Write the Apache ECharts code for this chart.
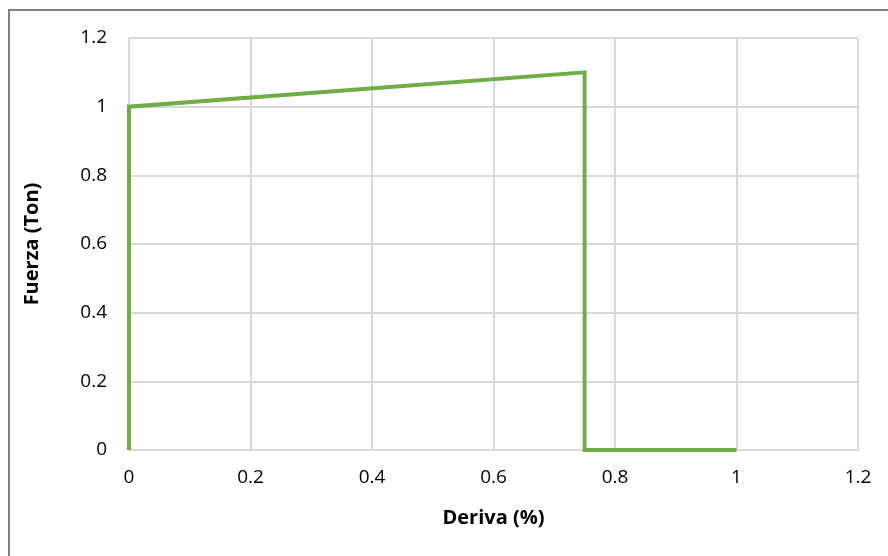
<!DOCTYPE html>
<html>
<head>
<meta charset="utf-8">
<script src="https://cdn.jsdelivr.net/npm/echarts@6/dist/echarts.min.js"></script>
<style>
  html, body { margin: 0; padding: 0; background: #fff; }
  #chart { width: 888px; height: 556px; }
</style>
</head>
<body>
<div id="chart"></div>
<script>
// Force–drift curve
const deriva = [0, 0, 0.75, 0.75, 1];
const fuerza = [0, 1, 1.1, 0, 0];
const xTicks = [0, 0.2, 0.4, 0.6, 0.8, 1, 1.2];
const yTicks = [0, 0.2, 0.4, 0.6, 0.8, 1, 1.2];

const font = '"Open Sans", "Noto Sans", sans-serif';
const chart = echarts.init(document.getElementById('chart'), null, { renderer: 'canvas' });

chart.setOption({
  animation: false,
  backgroundColor: '#ffffff',
  graphic: [{
    type: 'rect',
    shape: { x: 9, y: 10, width: 900, height: 600 },
    style: { fill: 'none', stroke: '#808080', lineWidth: 2 },
    silent: true
  }],
  grid: { left: 129, right: 30, top: 38, bottom: 106 },
  xAxis: {
    type: 'value',
    min: xTicks[0], max: xTicks[xTicks.length - 1], interval: 0.2,
    name: 'Deriva (%)', nameLocation: 'middle', nameGap: 58,
    nameTextStyle: { fontFamily: font, fontSize: 20, fontWeight: 'bold', color: '#000' },
    axisLine: { show: true, lineStyle: { color: '#d9d9d9', width: 2 } },
    axisTick: { show: false },
    axisLabel: { fontFamily: font, fontSize: 19, color: '#000', margin: 18,
                 formatter: v => String(Math.round(v * 10) / 10) },
    splitLine: { show: true, lineStyle: { color: '#d9d9d9', width: 2 } }
  },
  yAxis: {
    type: 'value',
    min: yTicks[0], max: yTicks[yTicks.length - 1], interval: 0.2,
    name: 'Fuerza (Ton)', nameLocation: 'middle', nameGap: 87, nameRotate: 90,
    nameTextStyle: { fontFamily: font, fontSize: 20, fontWeight: 'bold', color: '#000' },
    axisLine: { show: true, lineStyle: { color: '#d9d9d9', width: 2 } },
    axisTick: { show: false },
    axisLabel: { fontFamily: font, fontSize: 19, color: '#000', margin: 22,
                 formatter: v => String(Math.round(v * 10) / 10) },
    splitLine: { show: true, lineStyle: { color: '#d9d9d9', width: 2 } }
  },
  series: [{
    type: 'line',
    data: deriva.map((x, i) => [x, fuerza[i]]),
    showSymbol: false,
    lineStyle: { color: '#70ad47', width: 4, join: 'miter' },
    itemStyle: { color: '#70ad47' }
  }]
});
</script>
</body>
</html>
